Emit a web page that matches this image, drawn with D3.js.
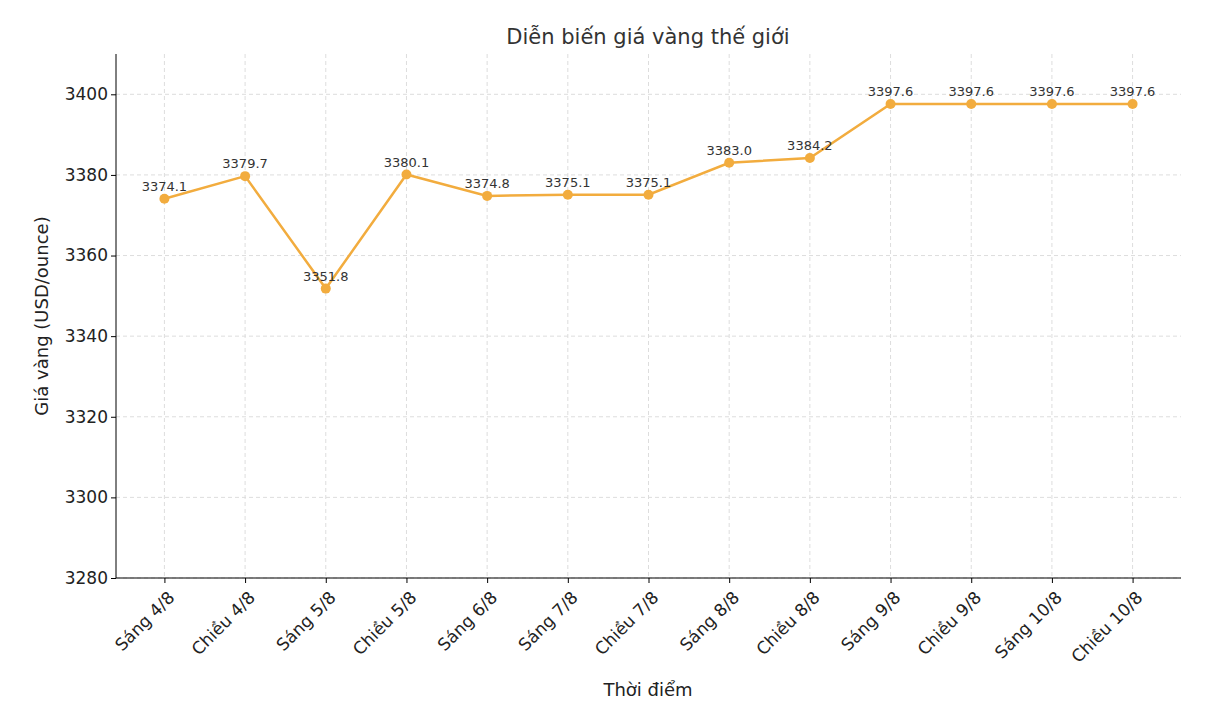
<!DOCTYPE html><html><head><meta charset="utf-8">
<script src="https://cdn.jsdelivr.net/npm/d3@7"></script>
<style>body{margin:0;background:#fff}svg{font-family:"DejaVu Sans",sans-serif}</style></head><body>
<svg id="c" width="1216" height="708"></svg>
<script>
const categories=["Sáng 4/8","Chiều 4/8","Sáng 5/8","Chiều 5/8","Sáng 6/8","Sáng 7/8","Chiều 7/8","Sáng 8/8","Chiều 8/8","Sáng 9/8","Chiều 9/8","Sáng 10/8","Chiều 10/8"];
const prices=[3374.1,3379.7,3351.8,3380.1,3374.8,3375.1,3375.1,3383.0,3384.2,3397.6,3397.6,3397.6,3397.6];
const yTicks=[3280,3300,3320,3340,3360,3380,3400];
const svg=d3.select("#c");
const L=116,R=1181,T=54,B=578;
const x=d3.scaleLinear().domain([-0.6,categories.length-1+0.6]).range([L,R]);
const y=d3.scaleLinear().domain([3280,3410]).range([B,T]);
const g=svg.append("g");
g.selectAll(".gy").data(yTicks).join("line").attr("x1",L).attr("x2",R).attr("y1",d=>y(d)).attr("y2",d=>y(d)).attr("stroke","#ddd").attr("stroke-dasharray","4,3");
g.selectAll(".gx").data(categories).join("line").attr("x1",(d,i)=>x(i)).attr("x2",(d,i)=>x(i)).attr("y1",T).attr("y2",B).attr("stroke","#ddd").attr("stroke-dasharray","4,3");
const ya=svg.append("g").attr("transform",`translate(${L},0)`).call(d3.axisLeft(y).tickValues(yTicks).tickSize(5).tickFormat(d3.format("d")));
ya.attr("font-size",null).attr("font-family",null);
ya.selectAll("text").style("font-size","17px").attr("fill","#222");
ya.select(".domain").attr("d",`M0,${T}V${B}`);
const xa=svg.append("g").attr("transform",`translate(0,${B})`).call(d3.axisBottom(x).tickValues(d3.range(categories.length)).tickSize(5).tickFormat(i=>categories[i]));
xa.attr("font-size",null).attr("font-family",null);
xa.select(".domain").attr("d",`M${L},0H${R}`);
xa.selectAll("text").style("font-size","17px").attr("fill","#222").attr("text-anchor","end").attr("dx","0").attr("dy","0").attr("transform","translate(5,15) rotate(-45)");
const col="#F2AC3E";
svg.append("path").datum(prices).attr("fill","none").attr("stroke",col).attr("stroke-width",2.5)
 .attr("d",d3.line().x((d,i)=>x(i)).y(d=>y(d)));
svg.selectAll(".pt").data(prices).join("circle").attr("cx",(d,i)=>x(i)).attr("cy",d=>y(d)).attr("r",5).attr("fill",col);
svg.selectAll(".lb").data(prices).join("text").attr("x",(d,i)=>x(i)).attr("y",d=>y(d)-8).attr("text-anchor","middle").style("font-size","13px").attr("fill","#333").text(d=>d.toFixed(1));
svg.append("text").attr("x",648).attr("y",44).attr("text-anchor","middle").style("font-size","21px").attr("fill","#333").text("Diễn biến giá vàng thế giới");
svg.append("text").attr("x",648).attr("y",696).attr("text-anchor","middle").style("font-size","18px").attr("fill","#222").text("Thời điểm");
svg.append("text").attr("transform","translate(48,316) rotate(-90)").attr("text-anchor","middle").style("font-size","18px").attr("fill","#222").text("Giá vàng (USD/ounce)");
</script></body></html>
